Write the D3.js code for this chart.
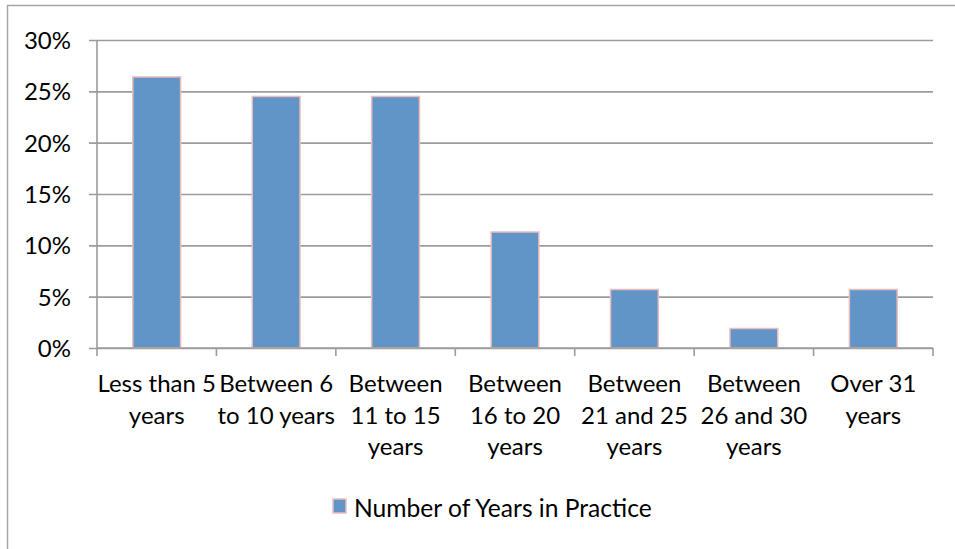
<!DOCTYPE html>
<html>
<head>
<meta charset="utf-8">
<script src="https://cdn.jsdelivr.net/npm/d3@7"></script>
<style>
  html, body { margin: 0; padding: 0; background: #fff; }
  svg { display: block; }
  text { font-family: Lato, "Open Sans", sans-serif; fill: #000; }
</style>
</head>
<body>
<svg id="chart" width="955" height="549"></svg>
<script>
// Share of respondents by number of years in practice
const categories = [
  "Less than 5 years",
  "Between 6 to 10 years",
  "Between 11 to 15 years",
  "Between 16 to 20 years",
  "Between 21 and 25 years",
  "Between 26 and 30 years",
  "Over 31 years"
];
const categoryLines = [
  ["Less than 5", "years"],
  ["Between 6", "to 10 years"],
  ["Between", "11 to 15", "years"],
  ["Between", "16 to 20", "years"],
  ["Between", "21 and 25", "years"],
  ["Between", "26 and 30", "years"],
  ["Over 31", "years"]
];
const values = [0.264, 0.245, 0.245, 0.113, 0.057, 0.019, 0.057];
const yTicks = [0, 0.05, 0.10, 0.15, 0.20, 0.25, 0.30];
const seriesName = "Number of Years in Practice";

const svg = d3.select("#chart");
const W = 955, H = 549;
const plot = { left: 97, right: 933, top: 40, bottom: 348 };
const fontSize = 24;

// outer chart frame
svg.append("rect")
  .attr("x", 7.5).attr("y", 5.5)
  .attr("width", W).attr("height", H)
  .attr("fill", "#fff")
  .attr("stroke", "#a6a6a6").attr("stroke-width", 1.5);

const x = d3.scaleBand()
  .domain(categories)
  .range([plot.left, plot.right])
  .paddingInner(0.6)
  .paddingOuter(0.3);

const y = d3.scaleLinear()
  .domain([0, 0.30])
  .range([plot.bottom, plot.top]);

// horizontal gridlines with y-axis labels
const yAxis = d3.axisLeft(y)
  .tickValues(yTicks)
  .tickFormat(d3.format(".0%"))
  .tickSize(-(plot.right - plot.left))
  .tickPadding(26);

const gy = svg.append("g")
  .attr("transform", `translate(${plot.left},0)`)
  .call(yAxis);
gy.select(".domain").remove();
gy.selectAll(".tick line")
  .attr("x1", -8)
  .attr("stroke", "#9c9c9c").attr("stroke-width", 1.6);
gy.selectAll(".tick text")
  .attr("font-size", fontSize)
  .attr("dy", "0.36em")
  .style("font-family", "Lato, 'Open Sans', sans-serif");

// vertical axis line
svg.append("line")
  .attr("x1", plot.left).attr("x2", plot.left)
  .attr("y1", plot.top).attr("y2", plot.bottom)
  .attr("stroke", "#9c9c9c").attr("stroke-width", 1.6);

// bars
svg.append("g").selectAll("rect")
  .data(values)
  .join("rect")
  .attr("x", (d, i) => x(categories[i]))
  .attr("width", x.bandwidth())
  .attr("y", d => y(d))
  .attr("height", d => y(0) - y(d))
  .attr("fill", "#6195c8")
  .attr("stroke", "#ebbcbc")
  .attr("stroke-width", 1.5);

// category axis: baseline and boundary ticks
const boundaries = d3.range(categories.length + 1).map(i => plot.left + i * (plot.right - plot.left) / categories.length);
svg.append("line")
  .attr("x1", plot.left).attr("x2", plot.right)
  .attr("y1", plot.bottom).attr("y2", plot.bottom)
  .attr("stroke", "#9c9c9c").attr("stroke-width", 1.6);
svg.append("g").selectAll("line")
  .data(boundaries)
  .join("line")
  .attr("x1", d => d).attr("x2", d => d)
  .attr("y1", plot.bottom).attr("y2", plot.bottom + 8)
  .attr("stroke", "#9c9c9c").attr("stroke-width", 1.6);

// category labels, wrapped onto lines
const lab = svg.append("g").selectAll("text")
  .data(categories)
  .join("text")
  .attr("text-anchor", "middle")
  .attr("font-size", fontSize)
  .attr("transform", d => `translate(${x(d) + x.bandwidth() / 2},392)`);
lab.each(function (d, i) {
  d3.select(this).selectAll("tspan")
    .data(categoryLines[i])
    .join("tspan")
    .attr("x", 0)
    .attr("y", (t, k) => k * 31.5)
    .text(t => t);
});

// legend
const lg = svg.append("g").attr("transform", "translate(333,499)");
lg.append("rect")
  .attr("width", 13).attr("height", 14)
  .attr("fill", "#6195c8")
  .attr("stroke", "#ebbcbc").attr("stroke-width", 1.5);
lg.append("text")
  .attr("x", 21).attr("y", 18)
  .attr("font-size", 24.6)
  .text(seriesName);
</script>
</body>
</html>
